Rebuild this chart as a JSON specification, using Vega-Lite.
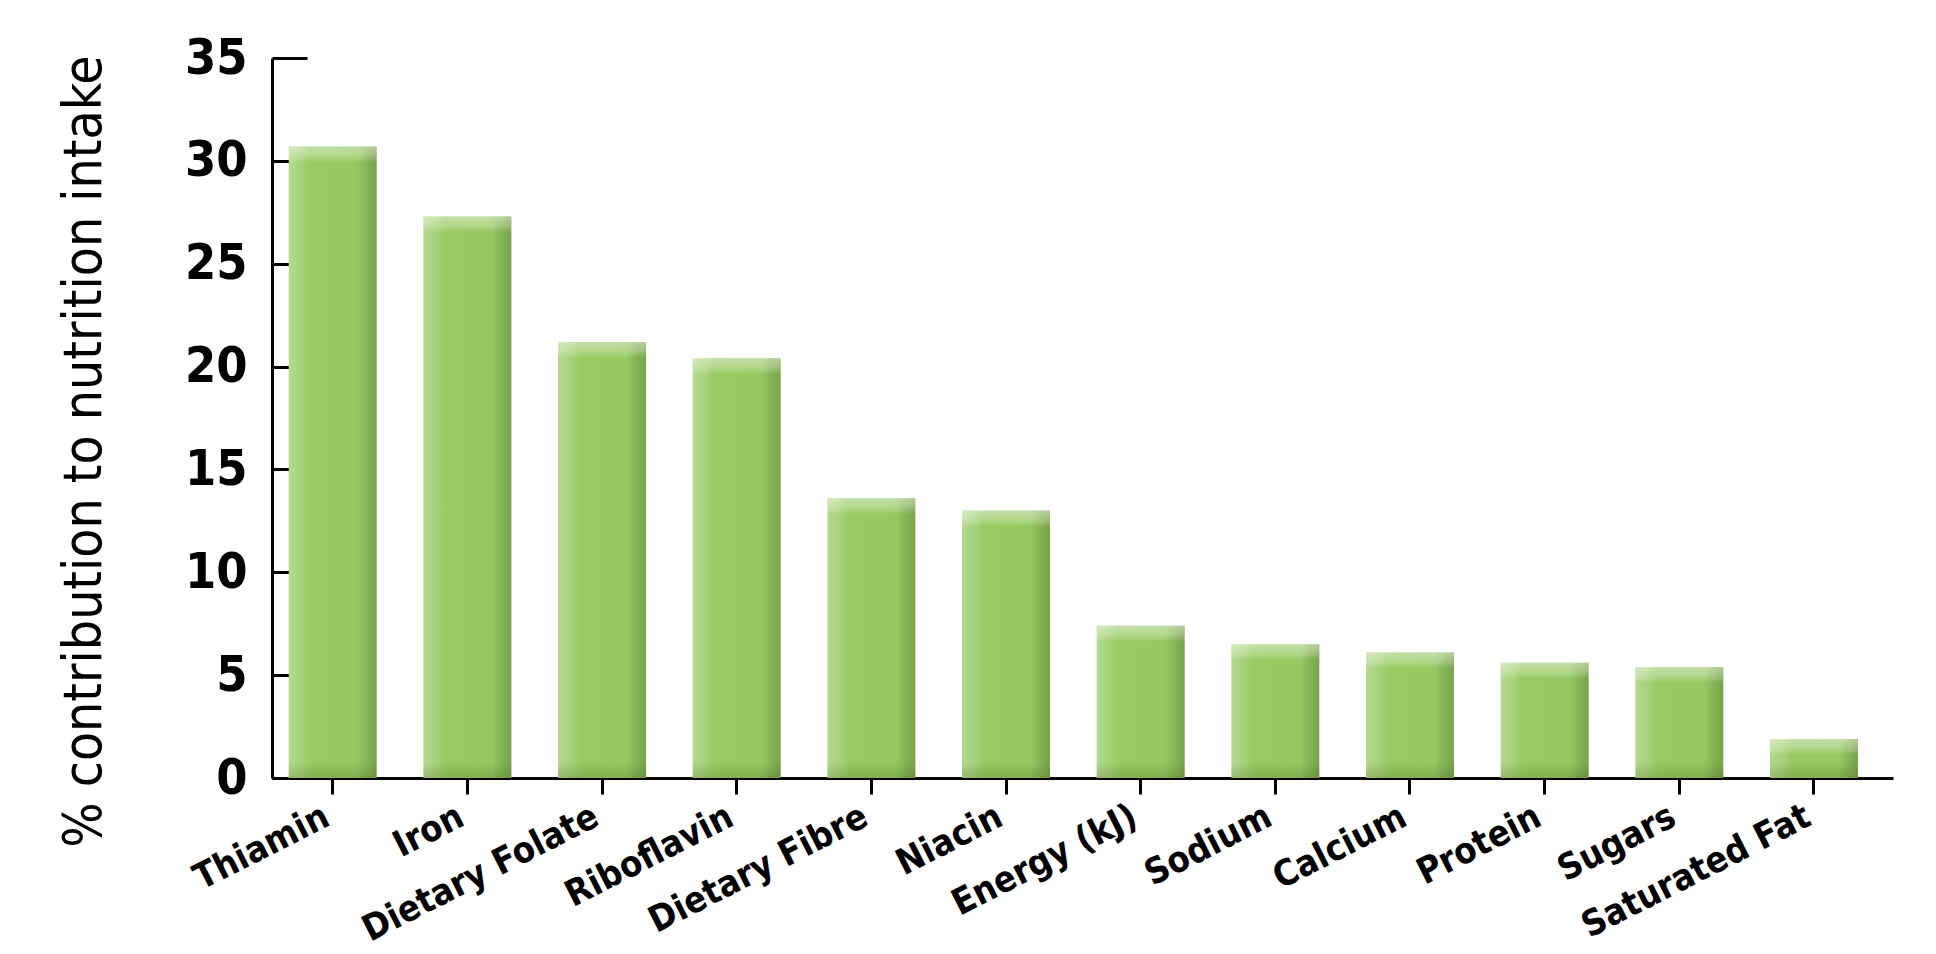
{
  "$schema": "https://vega.github.io/schema/vega-lite/v6.json",
  "width": 1621,
  "height": 720,
  "autosize": {"type": "none"},
  "padding": {"left": 272, "top": 58, "right": 43, "bottom": 176},
  "background": "white",
  "config": {"view": {"stroke": null}, "font": "DejaVu Sans Condensed"},
  "data": {
    "values": [
      {"nutrient": "Thiamin", "v": 30.7},
      {"nutrient": "Iron", "v": 27.3},
      {"nutrient": "Dietary Folate", "v": 21.2},
      {"nutrient": "Riboflavin", "v": 20.4},
      {"nutrient": "Dietary Fibre", "v": 13.6},
      {"nutrient": "Niacin", "v": 13.0},
      {"nutrient": "Energy (kJ)", "v": 7.4},
      {"nutrient": "Sodium", "v": 6.5},
      {"nutrient": "Calcium", "v": 6.1},
      {"nutrient": "Protein", "v": 5.6},
      {"nutrient": "Sugars", "v": 5.4},
      {"nutrient": "Saturated Fat", "v": 1.9}
    ]
  },
  "encoding": {
    "x": {
      "field": "nutrient",
      "type": "nominal",
      "sort": null,
      "scale": {"paddingInner": 0.3465, "paddingOuter": 0.1921, "align": 0.323},
      "axis": {
        "title": null,
        "domainColor": "black",
        "domainWidth": 3,
        "tickColor": "black",
        "tickWidth": 3,
        "tickSize": 16,
        "labelAngle": -27,
        "labelAlign": "right",
        "labelBaseline": "middle",
        "labelFont": "DejaVu Sans Condensed",
        "labelFontSize": 36,
        "labelFontWeight": "bold",
        "labelColor": "black",
        "labelPadding": 20,
        "labelOffset": -6,
        "labelLimit": 1000,
        "labelOverlap": false,
        "labelBound": false
      }
    }
  },
  "layer": [
    {
      "mark": {
        "type": "bar",
        "size": 88,
        "color": {
          "gradient": "linear",
          "x1": 0, "x2": 1, "y1": 0, "y2": 0,
          "stops": [
            {"offset": 0, "color": "#b4d990"},
            {"offset": 0.14, "color": "#a6d27a"},
            {"offset": 0.24, "color": "#97ca63"},
            {"offset": 0.78, "color": "#96c862"},
            {"offset": 0.88, "color": "#86b556"},
            {"offset": 1, "color": "#78a24b"}
          ]
        }
      },
      "encoding": {
        "y": {
          "field": "v",
          "type": "quantitative",
          "scale": {"domain": [0, 35], "nice": false, "zero": true},
          "axis": {
            "values": [0, 5, 10, 15, 20, 25, 30, 35],
            "grid": false,
            "domainColor": "black",
            "domainWidth": 3,
            "tickColor": "black",
            "tickWidth": 3,
            "tickSize": -35,
            "labelPadding": 60,
            "labelFont": "DejaVu Sans Condensed",
            "labelFontSize": 50,
            "labelFontWeight": "bold",
            "labelColor": "black",
            "title": "% contribution to nutrition intake",
            "titleFont": "DejaVu Sans Condensed",
            "titleFontSize": 53,
            "titleFontWeight": "normal",
            "titleColor": "black",
            "titleAngle": -90,
            "titleAlign": "center",
            "titleBaseline": "middle",
            "titleX": -188,
            "titleY": 393
          }
        }
      }
    },
    {
      "mark": {
        "type": "tick",
        "size": 88,
        "thickness": 16,
        "yOffset": 8,
        "color": {
          "gradient": "linear",
          "x1": 0, "x2": 0, "y1": 0, "y2": 1,
          "stops": [
            {"offset": 0, "color": "rgba(255,255,255,0.62)"},
            {"offset": 0.6, "color": "rgba(255,255,255,0.35)"},
            {"offset": 1, "color": "rgba(255,255,255,0.0)"}
          ]
        }
      },
      "encoding": {
        "y": {"field": "v", "type": "quantitative"}
      }
    },
    {
      "mark": {
        "type": "tick",
        "size": 88,
        "thickness": 16,
        "yOffset": -8,
        "color": {
          "gradient": "linear",
          "x1": 0, "x2": 0, "y1": 0, "y2": 1,
          "stops": [
            {"offset": 0, "color": "rgba(60,90,20,0.0)"},
            {"offset": 1, "color": "rgba(60,90,20,0.35)"}
          ]
        }
      },
      "encoding": {
        "y": {"datum": 0, "type": "quantitative"}
      }
    }
  ]
}
